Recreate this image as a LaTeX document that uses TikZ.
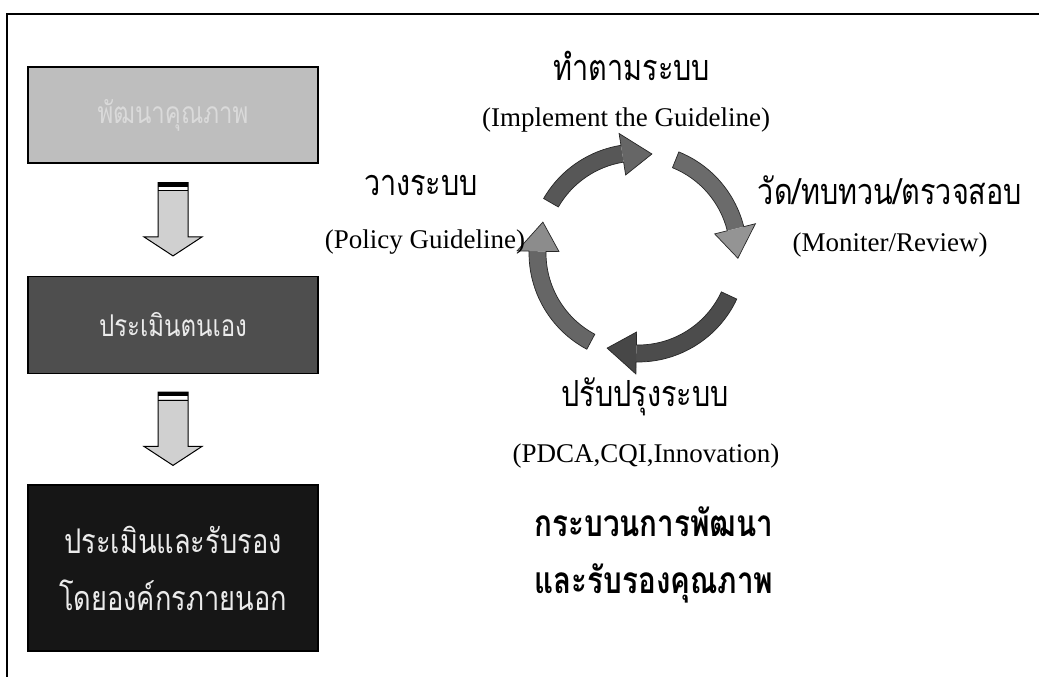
\documentclass[tikz,border=0pt]{standalone}
\usepackage{fontspec}
\setmainfont{Liberation Serif}
\newfontfamily\thai[Script=Thai, FakeStretch=0.8]{Loma}
\usetikzlibrary{calc}
\definecolor{boxA}{HTML}{BEBEBE}
\definecolor{boxB}{HTML}{4E4E4E}
\definecolor{boxC}{HTML}{161616}
\definecolor{txtA}{HTML}{DADADA}
\definecolor{barrowfill}{HTML}{D0D0D0}
\tikzset{
  stagebox/.style={draw=black, line width=1.2pt, minimum width=290pt, align=center, inner sep=0pt},
  barrow/.style={fill=barrowfill, draw=black, line width=1pt, line join=miter},
  thlabel/.style={font=\thai\fontsize{36}{40}\selectfont, inner sep=0pt},
  enlabel/.style={font=\fontsize{27}{30}\selectfont, inner sep=0pt},
  titlelabel/.style={font=\thai\bfseries\fontsize{37}{40}\selectfont, inner sep=0pt},
  cycarrow/.style={draw=black!85, line width=0.7pt, line join=miter},
}
\newcommand\cycarc[4]{%
  \fill[#3] (#1:109) arc[start angle=#1, end angle=#2, radius=109]
    -- (#2:92) arc[start angle=#2, end angle=#1, radius=92] -- cycle;
  \fill[#4] (#2:121) -- ({#2-17}:100) -- (#2:79) -- cycle;
  \draw[cycarrow] (#1:109) arc[start angle=#1, end angle=#2, radius=109]
    -- (#2:121) -- ({#2-17}:100) -- (#2:79) -- (#2:92)
    arc[start angle=#2, end angle=#1, radius=92] -- cycle;}
\begin{document}
\begin{tikzpicture}[x=1pt,y=-1pt]
\useasboundingbox (0,0) rectangle (1039,677);
\fill[white] (0,0) rectangle (1039,677);
% frame
\draw[line width=1.4pt] (7,677) -- (7,14) -- (1039,14);

% left stage boxes
\node[stagebox, fill=boxA, minimum height=96pt, text=txtA,
      font=\thai\fontsize{30}{34}\selectfont] (b1) at (173,115) {พัฒนาคุณภาพ};
\node[stagebox, fill=boxB, minimum height=97pt, text=white!92!black,
      font=\thai\fontsize{30}{34}\selectfont] (b2) at (173,325) {ประเมินตนเอง};
\node[stagebox, fill=boxC, minimum height=166pt, text=white!92!black,
      font=\thai\fontsize{34}{57}\selectfont] (b3) at (173,568) {ประเมินและรับรอง\\โดยองค์กรภายนอก};

% block arrows
\path (b1.south) ++(0,19) coordinate (a1t);
\path (b2.north) ++(0,-20) coordinate (a1h);
\path (b2.south) ++(0,18) coordinate (a2t);
\path (b3.north) ++(0,-19) coordinate (a2h);
\foreach \t/\h in {a1t/a1h, a2t/a2h}{
  \filldraw[barrow] ($(\t)+(-15,0)$) -- ($(\h)+(-15,-19)$) -- ($(\h)+(-29,-19)$) -- (\h)
     -- ($(\h)+(29,-19)$) -- ($(\h)+(15,-19)$) -- ($(\t)+(15,0)$) -- cycle;
  \fill[black] ($(\t)+(-15,0)$) rectangle ($(\t)+(15,4)$);
  \fill[white] ($(\t)+(-14,4)$) rectangle ($(\t)+(14,7)$);
  \draw[line width=1pt] ($(\t)+(-15,8)$) -- ($(\t)+(15,8)$);
}

% cycle
\coordinate (cc) at (638,253);
\begin{scope}[shift={(cc)}, yscale=-1]
  \cycarc{150}{99}{black!66}{black!60}
  \cycarc{68}{14}{black!58}{black!42}
  \cycarc{-25}{-91}{black!70}{black!72}
  \cycarc{242}{179}{black!60}{black!45}
\end{scope}

% cycle labels
\node[thlabel] (l1) at (632,66) {ทำตามระบบ};
\node[enlabel] (l1e) at (626,120) {(Implement the Guideline)};
\node[thlabel] (l2) at (890,190) {วัด/ทบทวน/ตรวจสอบ};
\node[enlabel] (l2e) at (890,245) {(Moniter/Review)};
\node[thlabel] (l3) at (645,397) {ปรับปรุงระบบ};
\node[enlabel] (l3e) at (646,456) {(PDCA,CQI,Innovation)};
\node[thlabel] (l4) at (421,185) {วางระบบ};
\node[enlabel] (l4e) at (425,242) {(Policy Guideline)};
\node[titlelabel] (t1) at (654,522) {กระบวนการพัฒนา};
\node[titlelabel] (t2) at (654,583) {และรับรองคุณภาพ};
\end{tikzpicture}
\end{document}
